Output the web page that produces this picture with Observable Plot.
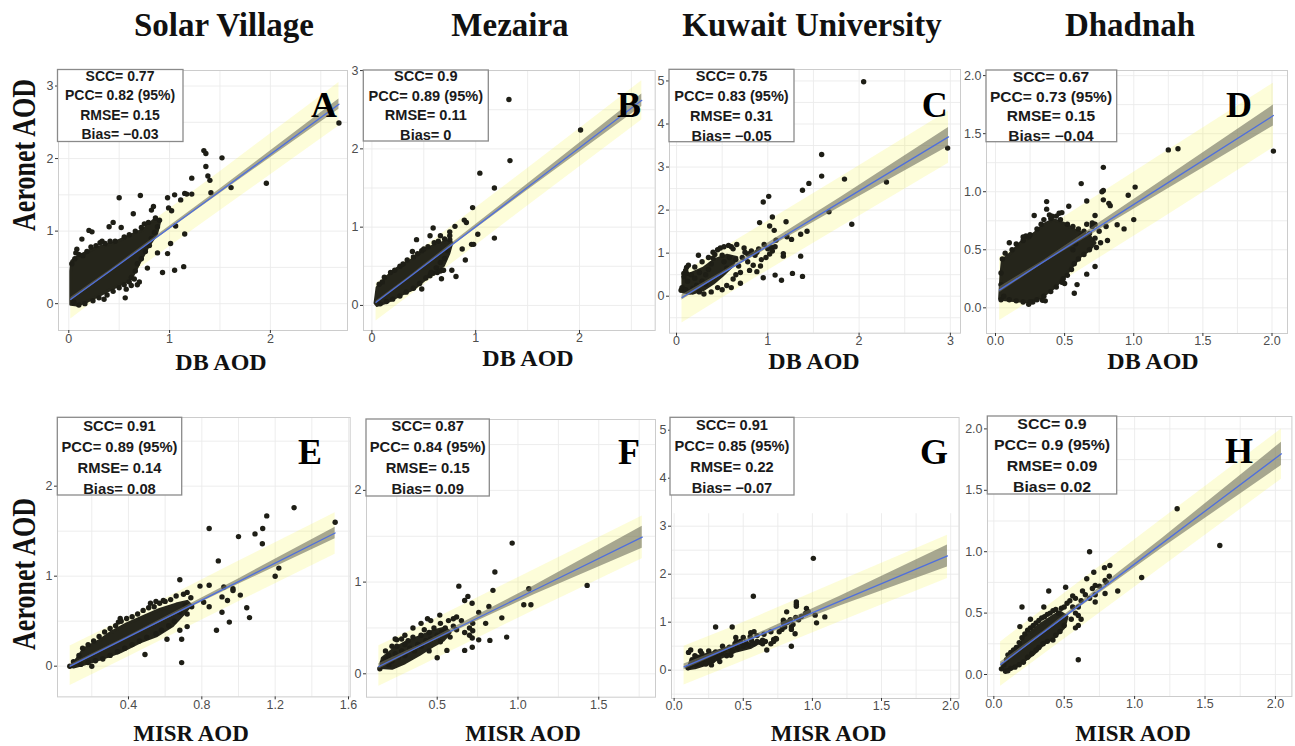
<!DOCTYPE html>
<html><head><meta charset="utf-8">
<script src="https://cdn.jsdelivr.net/npm/d3@7"></script>
<script src="https://cdn.jsdelivr.net/npm/@observablehq/plot@0.6"></script>
<style>
body{margin:0;background:#fff;}
#wrap{position:relative;width:1295px;height:746px;overflow:hidden;background:#fff;}
</style></head><body><div id="wrap"></div>
<script>
// ---------------- DATA ----------------
const stationTitles = ["Solar Village", "Mezaira", "Kuwait University", "Dhadnah"];
const panelLetters = ["A","B","C","D","E","F","G","H"];
const xAxisTitles = ["DB AOD", "MISR AOD"];
const yAxisTitle = "Aeronet AOD";

const statsA = ["SCC= 0.77","PCC= 0.82 (95%)","RMSE= 0.15","Bias= \u22120.03"];
const statsB = ["SCC= 0.9","PCC= 0.89 (95%)","RMSE= 0.11","Bias= 0"];
const statsC = ["SCC= 0.75","PCC= 0.83 (95%)","RMSE= 0.31","Bias= \u22120.05"];
const statsD = ["SCC= 0.67","PCC= 0.73 (95%)","RMSE= 0.15","Bias= \u22120.04"];
const statsE = ["SCC= 0.91","PCC= 0.89 (95%)","RMSE= 0.14","Bias= 0.08"];
const statsF = ["SCC= 0.87","PCC= 0.84 (95%)","RMSE= 0.15","Bias= 0.09"];
const statsG = ["SCC= 0.91","PCC= 0.85 (95%)","RMSE= 0.22","Bias= \u22120.07"];
const statsH = ["SCC= 0.9","PCC= 0.9 (95%)","RMSE= 0.09","Bias= 0.02"];

// tick values
const xTicksA = [0,1,2], yTicksA = [0,1,2,3];
const xTicksB = [0,1,2], yTicksB = [0,1,2,3];
const xTicksC = [0,1,2,3], yTicksC = [0,1,2,3,4,5];
const xTicksD = [0,0.5,1,1.5,2], yTicksD = [0,0.5,1,1.5,2];
const xTicksE = [0.4,0.8,1.2,1.6], yTicksE = [0,1,2];
const xTicksF = [0.5,1,1.5], yTicksF = [0,1,2];
const xTicksG = [0,0.5,1,1.5,2], yTicksG = [0,1,2,3,4,5];
const xTicksH = [0,0.5,1,1.5,2], yTicksH = [0,0.5,1,1.5,2];
// grid values (major + minor)
const gridXA = [0,0.5,1,1.5,2,2.5], gridYA = [0,0.5,1,1.5,2,2.5,3];
const gridXB = [0,0.5,1,1.5,2,2.5], gridYB = [0,0.5,1,1.5,2,2.5,3];
const gridXC = [0,0.5,1,1.5,2,2.5,3], gridYC = [-0.5,0,0.5,1,1.5,2,2.5,3,3.5,4,4.5,5];
const gridXD = [0,0.25,0.5,0.75,1,1.25,1.5,1.75,2], gridYD = [0,0.25,0.5,0.75,1,1.25,1.5,1.75,2];
const gridXE = [0.2,0.4,0.6,0.8,1,1.2,1.4,1.6], gridYE = [0,0.5,1,1.5,2,2.5];
const gridXF = [0.25,0.5,0.75,1,1.25,1.5,1.75], gridYF = [0,0.5,1,1.5,2,2.5];
const gridXG = [0,0.25,0.5,0.75,1,1.25,1.5,1.75,2], gridYG = [-0.5,0,0.5,1,1.5,2,2.5,3];
const gridXH = [0,0.25,0.5,0.75,1,1.25,1.5,1.75,2], gridYH = [0,0.25,0.5,0.75,1,1.25,1.5,1.75,2];

// regression line, prediction band and confidence band read at a few x positions
const fitXA=[0.02,0.40,1.5,2.68], fitYA=[0.06,0.44,1.55,2.75], predLoA=[-0.21,0.19,1.28,2.45], predHiA=[0.31,0.69,1.82,3.05], confLoA=[0.035,0.425,1.52,2.68], confHiA=[0.085,0.455,1.58,2.82];
const fitXB=[0.04,0.35,1.5,2.60], fitYB=[0.04,0.35,1.51,2.62], predLoB=[-0.2,0.11,1.27,2.37], predHiB=[0.28,0.59,1.75,2.87], confLoB=[0.025,0.34,1.47,2.54], confHiB=[0.055,0.36,1.55,2.70];
const fitXC=[0.06,0.5,1.8,2.98], fitYC=[-0.03,0.53,2.19,3.70], predLoC=[-0.62,-0.04,1.61,3.09], predHiC=[0.53,1.10,2.77,4.30], confLoC=[-0.09,0.50,2.08,3.48], confHiC=[0.03,0.565,2.30,3.92];
const fitXD=[0.03,0.35,1.2,2.01], fitYD=[0.155,0.398,1.042,1.656], predLoD=[-0.11,0.13,0.765,1.38], predHiD=[0.435,0.67,1.32,1.935], confLoD=[0.13,0.386,0.992,1.566], confHiD=[0.18,0.41,1.092,1.746];
const fitXE=[0.082,0.4,1.0,1.527], fitYE=[0.0,0.326,0.94,1.48], predLoE=[-0.215,0.105,0.715,1.245], predHiE=[0.225,0.545,1.165,1.705], confLoE=[-0.015,0.316,0.91,1.415], confHiE=[0.015,0.336,0.97,1.545];
const fitXF=[0.139,0.4,1.1,1.769], fitYF=[0.08,0.306,0.911,1.49], predLoF=[-0.135,0.085,0.69,1.255], predHiF=[0.305,0.525,1.135,1.72], confLoF=[0.05,0.291,0.861,1.37], confHiF=[0.11,0.321,0.961,1.61];
const fitXG=[0.072,0.45,1.2,1.977], fitYG=[0.07,0.528,1.438,2.38], predLoG=[-0.31,0.13,1.01,1.91], predHiG=[0.5,0.93,1.86,2.81], confLoG=[0.01,0.498,1.338,2.15], confHiG=[0.13,0.558,1.538,2.61];
const fitXH=[0.048,0.35,1.2,2.043], fitYH=[0.081,0.341,1.072,1.797], predLoH=[-0.095,0.16,0.88,1.59], predHiH=[0.265,0.53,1.27,2.0], confLoH=[0.061,0.331,1.032,1.702], confHiH=[0.101,0.351,1.112,1.892];

// dense point clouds (outline of the packed region) and individual points
const cloudA=[[0.02,-0.01],[0.02,0.45],[0.03,0.59],[0.1,0.66],[0.25,0.76],[0.45,0.84],[0.61,0.94],[0.74,1.02],[0.84,1.15],[0.9,1.12],[0.87,0.96],[0.78,0.77],[0.71,0.59],[0.64,0.40],[0.58,0.31],[0.45,0.22],[0.31,0.12],[0.18,0.03],[0.08,-0.02]];
const pointsA=[[1.0,2.61],[2.68,2.49],[1.34,2.11],[1.36,2.07],[1.52,2.01],[1.36,1.89],[1.38,1.76],[1.40,1.70],[1.22,1.73],[1.61,1.60],[1.41,1.53],[1.96,1.66],[1.15,1.52],[1.17,1.51],[1.22,1.51],[1.11,1.43],[0.98,1.46],[1.05,1.50],[0.71,1.49],[0.50,1.46],[0.84,1.34],[0.82,1.29],[0.99,1.32],[1.02,1.28],[0.64,1.24],[0.44,1.12],[0.40,1.06],[0.52,1.05],[0.20,1.01],[0.23,0.99],[0.13,0.89],[0.33,0.86],[0.41,0.86],[0.46,0.86],[0.08,0.75],[0.07,0.70],[1.06,1.07],[1.15,0.96],[1.01,0.83],[0.98,0.69],[0.88,0.70],[0.93,0.43],[1.05,0.46],[1.14,0.51],[0.78,0.49],[0.68,0.26],[0.56,0.08],[0.35,0.06],[0.03,0.55],[0.06,0.62],[0.1,0.68],[0.14,0.66],[0.18,0.72],[0.22,0.78],[0.27,0.8],[0.31,0.84],[0.36,0.83],[0.55,0.92],[0.6,0.95],[0.66,1.0],[0.72,1.05],[0.75,1.1],[0.79,1.12],[0.86,1.18],[0.9,1.15],[0.88,1.06],[0.85,0.98],[0.82,0.9],[0.8,0.8],[0.76,0.72],[0.72,0.62],[0.68,0.55],[0.66,0.45],[0.62,0.36],[0.6,0.3],[0.55,0.26],[0.5,0.22],[0.44,0.17],[0.38,0.12],[0.3,0.08],[0.24,0.04],[0.16,0.0],[0.1,-0.02],[0.05,0.02],[0.7,0.3],[0.65,0.34],[0.57,0.2],[0.62,0.25]];

const cloudB=[[0.03,0.03],[0.05,0.23],[0.14,0.36],[0.24,0.47],[0.37,0.57],[0.47,0.68],[0.59,0.76],[0.72,0.82],[0.77,0.80],[0.74,0.66],[0.69,0.51],[0.59,0.43],[0.5,0.32],[0.4,0.21],[0.27,0.13],[0.14,0.04],[0.05,0.0]];
const pointsB=[[1.32,2.63],[2.01,2.24],[1.33,1.85],[1.04,1.69],[1.18,1.50],[1.18,0.86],[0.97,1.25],[0.89,1.09],[0.91,1.06],[0.80,1.01],[0.75,0.94],[0.75,0.89],[0.96,0.78],[0.98,0.78],[1.02,0.91],[0.59,0.99],[0.66,0.89],[0.56,0.89],[0.43,0.84],[0.39,0.69],[0.48,0.70],[0.90,0.58],[0.81,0.37],[0.77,0.45],[0.67,0.34],[0.56,0.38],[0.59,0.41],[0.48,0.21],[0.68,0.45],[0.87,0.72],[0.07,0.27],[0.1,0.3],[0.12,0.36],[0.18,0.42],[0.22,0.45],[0.27,0.5],[0.3,0.53],[0.34,0.58],[0.4,0.62],[0.44,0.66],[0.5,0.72],[0.54,0.75],[0.6,0.8],[0.64,0.82],[0.7,0.85],[0.75,0.84],[0.73,0.7],[0.7,0.6],[0.66,0.55],[0.62,0.48],[0.57,0.42],[0.52,0.35],[0.46,0.28],[0.4,0.22],[0.33,0.17],[0.27,0.12],[0.2,0.08],[0.14,0.05],[0.08,0.02],[0.63,0.42],[0.66,0.44],[0.69,0.45]];

const cloudC=[[0.07,0.1],[0.07,0.4],[0.15,0.52],[0.3,0.66],[0.42,0.85],[0.55,0.95],[0.66,0.9],[0.6,0.68],[0.5,0.48],[0.4,0.3],[0.3,0.16],[0.18,0.07]];
const pointsC=[[2.05,4.98],[2.97,3.44],[1.59,3.29],[1.59,2.79],[1.84,2.72],[2.30,2.65],[1.45,2.62],[1.38,2.46],[1.01,2.32],[0.95,2.19],[1.67,1.96],[1.92,1.67],[0.91,1.71],[1.20,1.73],[1.05,1.84],[1.02,1.63],[1.07,1.53],[1.43,1.51],[1.36,1.44],[1.21,1.38],[1.26,1.32],[1.09,1.30],[1.04,1.13],[1.17,0.99],[1.17,0.93],[1.36,0.93],[0.88,0.57],[0.95,0.43],[1.08,0.49],[1.15,0.37],[1.27,0.53],[1.38,0.46],[0.24,0.95],[0.11,0.67],[0.08,0.53],[0.11,0.53],[0.42,0.97],[0.40,1.02],[0.81,1.0],[0.05,0.14],[0.06,0.2],[0.1,0.15],[0.14,0.1],[0.18,0.18],[0.22,0.25],[0.12,0.35],[0.08,0.45],[0.16,0.5],[0.2,0.42],[0.25,0.55],[0.28,0.35],[0.32,0.5],[0.35,0.62],[0.38,0.75],[0.4,0.88],[0.45,1.08],[0.48,1.12],[0.5,0.95],[0.52,0.8],[0.55,0.65],[0.58,0.9],[0.6,1.15],[0.62,1.1],[0.65,0.85],[0.68,0.7],[0.7,0.55],[0.72,0.9],[0.75,1.02],[0.78,0.8],[0.8,0.6],[0.82,1.05],[0.86,0.95],[0.9,1.1],[0.93,0.85],[0.96,1.2],[1.0,1.1],[1.05,1.05],[1.08,1.15],[0.88,1.02],[0.7,0.3],[0.62,0.4],[0.55,0.25],[0.45,0.2],[0.38,0.1],[0.3,0.05],[0.25,0.1],[0.5,0.15],[0.6,0.2],[0.65,0.5],[0.32,0.28],[0.2,0.68],[0.1,0.6],[0.13,0.72],[0.28,0.8],[0.35,0.9],[0.52,1.15],[0.57,1.18],[0.66,1.2],[0.74,1.12],[0.78,0.98],[0.84,0.72],[0.92,0.7],[0.98,0.9],[1.02,0.98]];

const cloudD=[[0.03,0.08],[0.04,0.29],[0.05,0.41],[0.1,0.46],[0.18,0.56],[0.28,0.64],[0.35,0.72],[0.42,0.76],[0.49,0.73],[0.59,0.66],[0.68,0.62],[0.72,0.56],[0.68,0.5],[0.61,0.44],[0.55,0.35],[0.5,0.27],[0.42,0.17],[0.33,0.09],[0.25,0.05],[0.15,0.06],[0.07,0.07]];
const pointsD=[[2.01,1.35],[1.25,1.36],[1.32,1.37],[0.78,1.21],[0.62,1.07],[1.01,1.04],[0.96,0.97],[0.77,1.0],[0.78,1.01],[0.66,0.92],[0.78,0.93],[0.82,0.90],[0.83,0.88],[0.53,0.875],[0.37,0.915],[0.37,0.85],[0.39,0.80],[0.41,0.79],[0.46,0.815],[0.48,0.82],[0.28,0.795],[1.0,0.76],[0.88,0.715],[0.93,0.68],[0.72,0.795],[0.70,0.73],[0.72,0.72],[0.81,0.58],[0.72,0.356],[0.59,0.20],[0.57,0.126],[0.22,0.62],[0.2,0.61],[0.24,0.61],[0.10,0.56],[0.24,0.03],[0.27,0.05],[0.36,0.06],[0.34,0.065],[0.04,0.07],[0.49,0.25],[0.5,0.21],[0.66,0.29],[0.04,0.3],[0.05,0.42],[0.07,0.47],[0.12,0.5],[0.15,0.55],[0.2,0.58],[0.25,0.63],[0.3,0.68],[0.33,0.72],[0.35,0.76],[0.4,0.77],[0.44,0.79],[0.47,0.76],[0.52,0.72],[0.56,0.7],[0.6,0.68],[0.64,0.66],[0.68,0.64],[0.72,0.6],[0.76,0.56],[0.73,0.52],[0.68,0.5],[0.64,0.46],[0.6,0.42],[0.57,0.38],[0.55,0.33],[0.52,0.28],[0.48,0.22],[0.44,0.18],[0.4,0.14],[0.35,0.1],[0.3,0.07],[0.25,0.05],[0.2,0.05],[0.15,0.06],[0.1,0.07],[0.06,0.1],[0.04,0.2],[0.66,0.72],[0.7,0.7],[0.75,0.66],[0.8,0.7],[0.62,0.62],[0.58,0.55],[0.56,0.5]];

const cloudE=[[0.09,0.0],[0.12,0.085],[0.155,0.19],[0.246,0.29],[0.3,0.37],[0.39,0.47],[0.48,0.55],[0.57,0.63],[0.66,0.69],[0.72,0.72],[0.74,0.68],[0.7,0.58],[0.64,0.45],[0.555,0.34],[0.464,0.27],[0.355,0.16],[0.246,0.08],[0.155,0.02],[0.1,-0.01]];
const pointsE=[[1.527,1.60],[1.303,1.76],[1.154,1.67],[1.132,1.53],[1.09,1.47],[1.13,1.36],[1.0,1.44],[0.84,1.53],[0.89,1.17],[1.22,1.09],[1.20,1.0],[1.045,0.65],[1.06,0.54],[0.95,0.49],[0.91,0.60],[0.88,0.40],[1.01,0.79],[0.97,0.86],[0.97,0.84],[0.92,0.88],[0.84,0.90],[0.79,0.89],[0.68,0.96],[0.69,0.30],[0.69,0.04],[0.61,0.30],[0.49,0.13],[0.355,0.53],[0.345,0.49],[0.20,0.0],[0.08,0.0],[0.91,0.77],[0.94,0.73],[0.81,0.71],[0.84,0.66],[0.745,0.66],[0.72,0.58],[0.72,0.44],[0.68,0.40],[0.1,0.05],[0.13,0.12],[0.15,0.2],[0.18,0.24],[0.21,0.28],[0.24,0.33],[0.27,0.38],[0.3,0.42],[0.33,0.45],[0.36,0.5],[0.39,0.53],[0.42,0.55],[0.45,0.58],[0.48,0.62],[0.51,0.65],[0.54,0.66],[0.57,0.7],[0.6,0.72],[0.63,0.74],[0.66,0.78],[0.7,0.8],[0.72,0.82],[0.74,0.76],[0.71,0.68],[0.68,0.6],[0.65,0.5],[0.62,0.45],[0.58,0.4],[0.55,0.36],[0.5,0.32],[0.46,0.28],[0.42,0.24],[0.38,0.2],[0.34,0.16],[0.3,0.12],[0.26,0.08],[0.22,0.06],[0.18,0.04],[0.14,0.02],[0.59,0.73],[0.52,0.7],[0.55,0.72]];

const cloudF=[[0.15,0.07],[0.16,0.17],[0.23,0.27],[0.31,0.35],[0.4,0.41],[0.48,0.47],[0.55,0.5],[0.58,0.45],[0.54,0.37],[0.47,0.3],[0.39,0.21],[0.3,0.12],[0.22,0.06]];
const pointsF=[[0.964,1.425],[0.857,1.11],[0.634,0.956],[1.428,0.964],[1.067,0.927],[0.845,0.91],[0.69,0.844],[0.67,0.80],[0.716,0.77],[1.036,0.753],[1.08,0.753],[0.82,0.735],[0.757,0.67],[0.90,0.61],[0.80,0.55],[0.72,0.47],[0.717,0.39],[0.757,0.37],[0.826,0.364],[0.93,0.40],[0.717,0.29],[0.67,0.255],[0.56,0.255],[0.50,0.175],[0.44,0.60],[0.46,0.58],[0.516,0.64],[0.62,0.62],[0.24,0.38],[0.145,0.055],[0.16,0.12],[0.18,0.16],[0.2,0.2],[0.2,0.1],[0.22,0.14],[0.24,0.22],[0.25,0.3],[0.26,0.18],[0.28,0.25],[0.3,0.32],[0.3,0.2],[0.32,0.36],[0.33,0.28],[0.35,0.4],[0.36,0.25],[0.38,0.32],[0.4,0.42],[0.4,0.3],[0.42,0.48],[0.43,0.36],[0.45,0.45],[0.46,0.38],[0.48,0.5],[0.5,0.42],[0.52,0.55],[0.53,0.46],[0.55,0.5],[0.57,0.58],[0.6,0.52],[0.62,0.48],[0.45,0.25],[0.4,0.55],[0.35,0.5],[0.3,0.42],[0.28,0.38],[0.25,0.37],[0.22,0.3],[0.18,0.25],[0.65,0.58],[0.67,0.45],[0.7,0.5],[0.7,0.42],[0.72,0.55],[0.6,0.6],[0.58,0.4],[0.52,0.35]];

const cloudG=[[0.1,0.03],[0.12,0.2],[0.2,0.3],[0.3,0.38],[0.42,0.5],[0.52,0.55],[0.6,0.55],[0.55,0.47],[0.45,0.4],[0.35,0.28],[0.25,0.14],[0.15,0.05]];
const pointsG=[[1.007,2.33],[0.573,1.54],[0.30,0.90],[0.42,0.90],[0.884,1.42],[0.884,1.375],[0.884,1.333],[0.957,1.285],[0.814,1.215],[0.79,1.04],[0.79,0.99],[0.848,0.90],[0.848,0.85],[0.875,0.76],[0.848,0.50],[1.02,1.146],[1.03,0.986],[1.09,1.11],[0.67,0.42],[0.735,0.66],[0.72,0.64],[0.41,0.31],[0.104,0.37],[0.12,0.42],[0.19,0.40],[0.554,0.78],[0.578,0.80],[0.446,0.68],[0.64,0.625],[0.1,0.05],[0.12,0.1],[0.14,0.15],[0.16,0.12],[0.18,0.2],[0.2,0.14],[0.22,0.22],[0.24,0.18],[0.26,0.28],[0.28,0.2],[0.3,0.3],[0.3,0.38],[0.32,0.25],[0.34,0.35],[0.36,0.42],[0.38,0.3],[0.4,0.48],[0.42,0.4],[0.44,0.55],[0.46,0.45],[0.48,0.6],[0.5,0.5],[0.52,0.58],[0.54,0.52],[0.56,0.62],[0.58,0.55],[0.6,0.6],[0.62,0.58],[0.64,0.55],[0.66,0.6],[0.7,0.55],[0.72,0.6],[0.74,0.65],[0.76,0.8],[0.78,0.85],[0.8,0.9],[0.82,1.0],[0.84,1.05],[0.86,0.95],[0.88,1.1],[0.9,1.05],[0.92,1.12],[0.95,1.18],[0.97,1.22],[0.15,0.3],[0.2,0.35],[0.25,0.4],[0.35,0.5],[0.45,0.6],[0.5,0.68],[0.55,0.7],[0.6,0.72],[0.65,0.75],[0.7,0.8],[0.13,0.22],[0.17,0.27],[0.23,0.13],[0.27,0.11],[0.33,0.18]];

const cloudH=[[0.06,0.06],[0.106,0.15],[0.166,0.21],[0.225,0.31],[0.31,0.39],[0.40,0.46],[0.47,0.51],[0.52,0.47],[0.50,0.385],[0.426,0.30],[0.355,0.25],[0.284,0.17],[0.19,0.09],[0.118,0.04]];
const pointsH=[[1.302,1.35],[1.605,1.05],[0.68,1.00],[1.05,0.79],[0.88,0.68],[0.824,0.888],[0.786,0.87],[0.71,0.833],[0.79,0.765],[0.72,0.725],[0.66,0.78],[0.79,0.66],[0.72,0.59],[0.63,0.68],[0.60,0.12],[0.51,0.71],[0.39,0.68],[0.355,0.55],[0.20,0.55],[0.26,0.45],[0.185,0.39],[0.58,0.38],[0.054,0.046],[0.083,0.027],[0.07,0.08],[0.09,0.12],[0.1,0.16],[0.12,0.18],[0.14,0.2],[0.16,0.22],[0.18,0.26],[0.2,0.3],[0.22,0.33],[0.24,0.36],[0.26,0.38],[0.28,0.4],[0.3,0.42],[0.32,0.44],[0.34,0.46],[0.36,0.47],[0.38,0.49],[0.4,0.5],[0.42,0.52],[0.44,0.53],[0.46,0.5],[0.48,0.54],[0.5,0.55],[0.52,0.58],[0.54,0.6],[0.56,0.55],[0.58,0.5],[0.55,0.45],[0.5,0.4],[0.47,0.35],[0.44,0.32],[0.42,0.28],[0.38,0.27],[0.35,0.25],[0.32,0.22],[0.3,0.2],[0.27,0.17],[0.24,0.14],[0.21,0.1],[0.18,0.08],[0.15,0.06],[0.12,0.05],[0.1,0.03],[0.6,0.55],[0.62,0.6],[0.58,0.62],[0.65,0.65],[0.7,0.7],[0.72,0.65],[0.75,0.72],[0.8,0.75],[0.82,0.8],[0.68,0.62],[0.56,0.64],[0.6,0.48],[0.62,0.45],[0.6,0.4]];

// ---------------- LAYOUT ----------------
const panels = [
  {L:58,   T:69.5,  R:347,   B:329.5, xd:[-0.102,2.765], yd:[-0.37,3.214], xt:xTicksA, yt:yTicksA, xf:"d",   yf:"d",   gx:gridXA, gy:gridYA, fit:[fitXA,fitYA,predLoA,predHiA,confLoA,confHiA], cloud:cloudA, pts:pointsA, pad:1},
  {L:363.3,T:70,    R:655,   B:330,   xd:[-0.081,2.729], yd:[-0.32,3.001], xt:xTicksB, yt:yTicksB, xf:"d",   yf:"d",   gx:gridXB, gy:gridYB, fit:[fitXB,fitYB,predLoB,predHiB,confLoB,confHiB], cloud:cloudB, pts:pointsB, pad:0},
  {L:669,  T:69.3,  R:960,   B:333,   xd:[-0.077,3.111], yd:[-0.859,5.266], xt:xTicksC, yt:yTicksC, xf:"d",  yf:"d",   gx:gridXC, gy:gridYC, fit:[fitXC,fitYC,predLoC,predHiC,confLoC,confHiC], cloud:cloudC, pts:pointsC, pad:0},
  {L:986,  T:70,    R:1287,  B:333,   xd:[-0.065,2.112], yd:[-0.221,2.044], xt:xTicksD, yt:yTicksD, xf:".1f",yf:".1f", gx:gridXD, gy:gridYD, fit:[fitXD,fitYD,predLoD,predHiD,confLoD,confHiD], cloud:cloudD, pts:pointsD, pad:0},
  {L:57.3, T:417.3, R:350,   B:696.7, xd:[0.013,1.609],  yd:[-0.341,2.763], xt:xTicksE, yt:yTicksE, xf:".1f",yf:"d",   gx:gridXE, gy:gridYE, fit:[fitXE,fitYE,predLoE,predHiE,confLoE,confHiE], cloud:cloudE, pts:pointsE, pad:0, mr:10},
  {L:366,  T:419,   R:655,   B:696.7, xd:[0.0625,1.851], yd:[-0.255,2.773], xt:xTicksF, yt:yTicksF, xf:".1f",yf:"d",   gx:gridXF, gy:gridYF, fit:[fitXF,fitYF,predLoF,predHiF,confLoF,confHiF], cloud:cloudF, pts:pointsF, pad:0},
  {L:670.7,T:417.3, R:958.3, B:698.3, xd:[-0.019,2.061], yd:[-0.59,5.265], xt:xTicksG, yt:yTicksG, xf:".1f",yf:"d",   gx:gridXG, gy:gridYG, fit:[fitXG,fitYG,predLoG,predHiG,confLoG,confHiG], cloud:cloudG, pts:pointsG, pad:0, gridTop:3.26},
  {L:987.3,T:416,   R:1291.7,B:696,   xd:[-0.045,2.117], yd:[-0.179,2.101], xt:xTicksH, yt:yTicksH, xf:".1f",yf:".1f", gx:gridXH, gy:gridYH, fit:[fitXH,fitYH,predLoH,predHiH,confLoH,confHiH], cloud:cloudH, pts:pointsH, pad:0}
];
const statSets = [statsA,statsB,statsC,statsD,statsE,statsF,statsG,statsH];
const boxes = [
  {l:57.5, t:69.5, r:183,   b:141.5, cx:120,   c0:76,   step:19.3, k:1.0,  fs:14},
  {l:363.3,t:70,   r:488.3, b:141,   cx:425.8, c0:76,   step:19.6, k:1.04, fs:14},
  {l:669,  t:69.3, r:794,   b:141.7, cx:731.5, c0:76,   step:20,   k:1.04, fs:14},
  {l:986,  t:70,   r:1116.7,b:141.7, cx:1051,  c0:76.7, step:19.8, k:1.11, fs:14},
  {l:57.3, t:417.3,r:181.7, b:495,   cx:119.5, c0:426,  step:20.8, k:1.04, fs:14.2},
  {l:366,  t:419,  r:489.3, b:496,   cx:427.7, c0:426,  step:20.8, k:1.04, fs:14.2},
  {l:670,  t:417.3,r:794,   b:495,   cx:732,   c0:425,  step:20.8, k:1.03, fs:14.2},
  {l:987.3,t:416,  r:1116.7,b:494,   cx:1052,  c0:424,  step:20.9, k:1.12, fs:14.2}
];
const letterPos = [[324,117.3],[629,117.3],[934.7,116.7],[1239,116.7],[310,464.3],[629,464.3],[934,464],[1239,463.3]];
const titlePos = [224,510,812,1130];
const xTitlePos = [[221,369.5],[528,366],[814,369],[1153,369],[191,741],[523,741],[828.5,741],[1133,741]];

// ---------------- DRAW ----------------
const wrap = document.getElementById("wrap");
const mL = 34, mT = 9, mB = 24;

panels.forEach((p, i) => {
  const mR = p.mr || 3;
  const [fx, fy, plo, phi, clo, chi] = p.fit;
  const fit = fx.map((x, j) => ({x, y: fy[j], plo: plo[j], phi: phi[j], clo: clo[j], chi: chi[j]}));
  const width = (p.R - p.L) + mL + mR;
  const height = (p.B - p.T) + mT + mB;
  const gTop = p.gridTop != null ? p.gridTop : p.yd[1];
  const svg = Plot.plot({
    width, height,
    marginLeft: mL, marginRight: mR, marginTop: mT, marginBottom: mB,
    style: {background: "transparent", fontFamily: "'Liberation Sans', Arial, sans-serif", position: "absolute", left: (p.L - mL) + "px", top: (p.T - mT) + "px", maxWidth: "none"},
    x: {domain: p.xd, label: null},
    y: {domain: p.yd, label: null},
    marks: [
      Plot.ruleX(p.gx, {x: d => d, y1: () => p.yd[0], y2: () => gTop, stroke: "#ebebeb", strokeWidth: 0.9}),
      Plot.ruleY(p.gy.filter(v => v <= gTop), {y: d => d, stroke: "#ebebeb", strokeWidth: 0.9}),
      Plot.areaY(fit, {x: "x", y1: "plo", y2: "phi", fill: "#f6f640", fillOpacity: 0.2}),
      Plot.line(p.cloud, {x: d => d[0], y: d => d[1], curve: "linear-closed", fill: "#25251b", stroke: "#25251b", strokeWidth: 3, strokeLinejoin: "round"}),
      Plot.dot(p.pts, {x: d => d[0], y: d => d[1], r: 2.7, fill: "#1e1e16"}),
      Plot.areaY(fit, {x: "x", y1: "clo", y2: "chi", fill: "#6e6e5e", fillOpacity: 0.6}),
      Plot.line(fit, {x: "x", y: "y", stroke: "#4f6fdc", strokeWidth: 1.3}),
      Plot.frame({stroke: "#cccccc", strokeWidth: 1}),
      Plot.axisX(p.xt, {tickSize: 3, tickPadding: p.pad, tickFormat: d3.format(p.xf), label: null, stroke: "#333", fill: "#4d4d4d", fontSize: 12.5}),
      Plot.axisY(p.yt, {tickSize: 3, tickPadding: 2, tickFormat: d3.format(p.yf), label: null, stroke: "#333", fill: "#4d4d4d", fontSize: 12.5})
    ]
  });
  wrap.appendChild(svg);
});

// overlay: titles, axis titles, letters, statistic boxes
const ov = d3.create("svg").attr("width", 1295).attr("height", 746)
  .style("position", "absolute").style("left", "0px").style("top", "0px");
const serif = "'Liberation Serif', 'Times New Roman', serif";
const sans = "'Liberation Sans', Arial, sans-serif";

stationTitles.forEach((t, i) => {
  ov.append("text").attr("x", titlePos[i]).attr("y", 36).attr("text-anchor", "middle")
    .attr("font-family", serif).attr("font-weight", "bold").attr("font-size", 33).attr("fill", "#111").text(t);
});
[155, 574].forEach(cy => {
  ov.append("text").attr("transform", `translate(35,${cy}) scale(1.3,1) rotate(-90)`).attr("text-anchor", "middle")
    .attr("font-family", serif).attr("font-weight", "bold").attr("font-size", 26).attr("fill", "#111").text(yAxisTitle);
});
xTitlePos.forEach(([x, y], i) => {
  ov.append("text").attr("x", x).attr("y", y).attr("text-anchor", "middle")
    .attr("font-family", serif).attr("font-weight", "bold").attr("font-size", i < 4 ? 24 : 23).attr("fill", "#111")
    .text(xAxisTitles[i < 4 ? 0 : 1]);
});
boxes.forEach((b, i) => {
  ov.append("rect").attr("x", b.l).attr("y", b.t).attr("width", b.r - b.l).attr("height", b.b - b.t)
    .attr("fill", "#fff").attr("stroke", "#8a8a8a").attr("stroke-width", 1.3);
  statSets[i].forEach((s, j) => {
    ov.append("text").attr("transform", `translate(${b.cx},${b.c0 + j * b.step + b.fs * 0.36}) scale(${b.k},1)`)
      .attr("text-anchor", "middle").attr("font-family", sans).attr("font-weight", "bold")
      .attr("font-size", b.fs).attr("fill", "#1a1a1a").text(s);
  });
});
panelLetters.forEach((l, i) => {
  ov.append("text").attr("x", letterPos[i][0]).attr("y", letterPos[i][1]).attr("text-anchor", "middle")
    .attr("font-family", serif).attr("font-weight", "bold").attr("font-size", 36).attr("fill", "#000").text(l);
});
wrap.appendChild(ov.node());
</script></body></html>
